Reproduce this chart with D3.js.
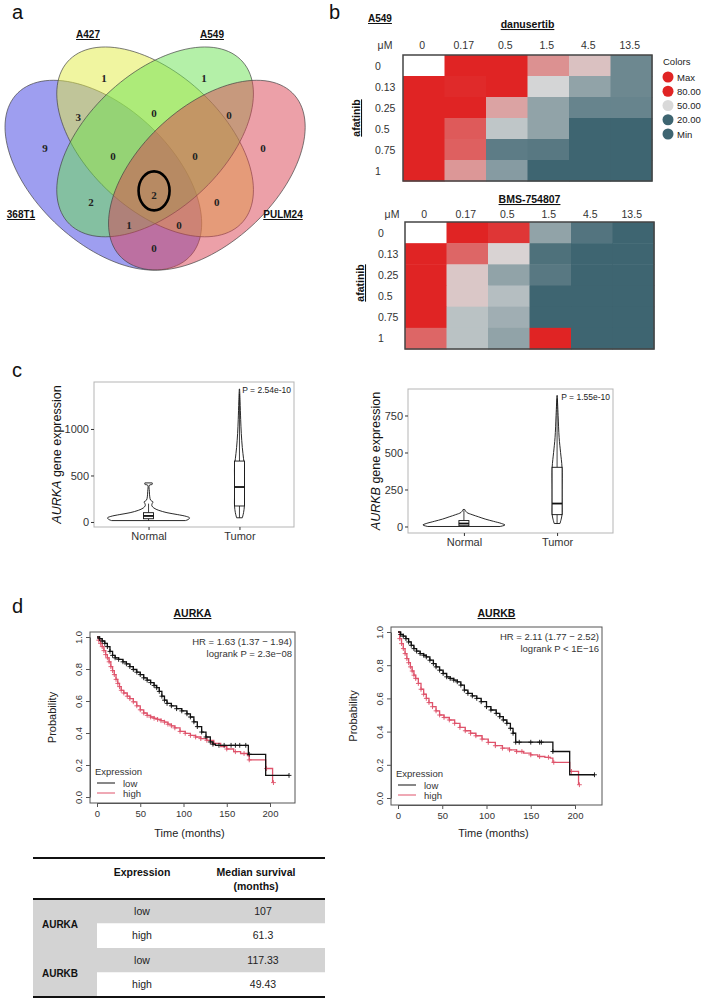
<!DOCTYPE html>
<html>
<head>
<meta charset="utf-8">
<script src="https://cdn.jsdelivr.net/npm/d3@7"></script>
<style>
  body { margin: 0; background: #fff; }
  svg { display: block; font-family: "Liberation Sans", Arial, sans-serif; }
</style>
</head>
<body>
<svg id="fig" width="702" height="999"></svg>
<script>
// ---- panel a: venn ----
const vennSets = ["368T1", "A427", "A549", "PULM24"];
const vennFill = ["#3d3de1", "#e1eb41", "#69e151", "#d94151"];
const vennCounts = [9, 1, 1, 0, 3, 0, 0, 0, 0, 2, 2, 0, 1, 0, 0];
// region label spots, unit square of the venn (y up)
const vennSpots = [[0.181, 0.552], [0.352, 0.762], [0.642, 0.762], [0.813, 0.552], [0.277, 0.645],
  [0.497, 0.657], [0.714, 0.651], [0.378, 0.528], [0.616, 0.528], [0.314, 0.39], [0.497, 0.411],
  [0.679, 0.39], [0.424, 0.32], [0.569, 0.32], [0.497, 0.251]];

// ---- panel b: heatmaps ----
const doseCols = ["0", "0.17", "0.5", "1.5", "4.5", "13.5"];
const afatinibRows = ["0", "0.13", "0.25", "0.5", "0.75", "1"];
const danusertib = [
  [null, 90, 90, 62, 54, 29],
  [90, 79, 90, 49, 36, 29],
  [90, 90, 59, 36, 28, 28],
  [90, 71, 45, 36, 15, 15],
  [90, 70, 26, 25, 15, 15],
  [90, 61, 34, 15, 15, 15],
];
const bms754807 = [
  [null, 90, 77, 36, 24, 15],
  [90, 69, 51, 23, 15, 15],
  [90, 53, 36, 25, 15, 15],
  [90, 53, 43, 15, 15, 15],
  [90, 44, 39, 15, 15, 15],
  [69, 44, 36, 90, 15, 15],
];
const legendKeys = ["Max", "80.00", "50.00", "20.00", "Min"];
const legendVals = [100, 80, 50, 20, 0];

// ---- panel c: violins (value, relative half width) ----
const aurkaNormal = [[15, 0.9], [30, 0.98], [45, 1], [60, 0.92], [80, 0.7], [100, 0.45], [125, 0.25], [150, 0.13],
  [175, 0.08], [200, 0.09], [215, 0.11], [235, 0.05], [270, 0.03], [330, 0.02], [395, 0.02], [405, 0.09], [420, 0.09]];
const aurkaTumor = [[45, 0.07], [100, 0.1], [170, 0.12], [300, 0.12], [450, 0.12], [600, 0.12], [680, 0.1],
  [800, 0.07], [950, 0.045], [1100, 0.03], [1300, 0.015], [1430, 0.004]];
const aurkaBox = { Normal: [15, 35, 65, 100, 197], Tumor: [45, 172, 376, 655, 1380] };
const aurkbNormal = [[0, 0.88], [10, 1], [20, 0.92], [35, 0.72], [50, 0.52], [65, 0.36], [80, 0.2], [95, 0.07], [115, 0.02]];
const aurkbTumor = [[20, 0.07], [50, 0.1], [80, 0.12], [150, 0.12], [250, 0.12], [400, 0.12], [500, 0.085],
  [600, 0.05], [750, 0.025], [885, 0.004]];
const aurkbBox = { Normal: [0, 5, 20, 40, 110], Tumor: [20, 80, 155, 400, 860] };

// ---- panel d: Kaplan-Meier (months, survival) ----
const aurkaLow = [[0, 1], [3, 0.99], [6, 0.975], [9, 0.96], [12, 0.94], [15, 0.91], [18, 0.885], [21, 0.87], [25, 0.86],
  [30, 0.845], [34, 0.832], [38, 0.815], [42, 0.797], [46, 0.78], [50, 0.765], [54, 0.745], [58, 0.73], [62, 0.715],
  [66, 0.697], [69, 0.683], [72, 0.66], [75, 0.63], [78, 0.605], [81, 0.585], [86, 0.57], [92, 0.552], [98, 0.538],
  [104, 0.52], [108, 0.5], [112, 0.47], [116, 0.44], [121, 0.406], [126, 0.375], [131, 0.344], [134, 0.33],
  [137, 0.323], [175, 0.267], [195, 0.135], [222, 0.135]];
const aurkaHigh = [[0, 1], [2, 0.98], [4, 0.96], [6, 0.94], [8, 0.915], [10, 0.89], [12, 0.87], [14, 0.845], [16, 0.815],
  [18, 0.79], [20, 0.765], [22, 0.735], [24, 0.71], [26, 0.69], [28, 0.667], [31, 0.65], [35, 0.63], [38, 0.615],
  [42, 0.595], [46, 0.57], [50, 0.545], [54, 0.525], [58, 0.51], [62, 0.5], [66, 0.492], [70, 0.485], [74, 0.477],
  [78, 0.468], [82, 0.455], [86, 0.445], [90, 0.432], [96, 0.41], [102, 0.398], [108, 0.385], [114, 0.375],
  [120, 0.365], [127, 0.354], [135, 0.335], [143, 0.315], [150, 0.3], [158, 0.283], [166, 0.272], [174, 0.258],
  [176, 0.232], [195, 0.178], [203, 0.09]];
const aurkbLow = [[0, 1], [3, 0.985], [6, 0.975], [9, 0.96], [12, 0.94], [15, 0.92], [18, 0.9], [21, 0.885], [25, 0.87],
  [29, 0.86], [32, 0.85], [36, 0.83], [40, 0.81], [43, 0.79], [47, 0.77], [51, 0.75], [55, 0.73], [59, 0.72], [63, 0.71],
  [67, 0.7], [71, 0.68], [75, 0.65], [79, 0.63], [84, 0.615], [89, 0.6], [94, 0.58], [100, 0.55], [105, 0.53],
  [111, 0.51], [115, 0.49], [119, 0.47], [123, 0.45], [127, 0.42], [130, 0.39], [133, 0.336], [175, 0.28],
  [194, 0.14], [222, 0.14]];
const aurkbHigh = [[0, 1], [2, 0.96], [4, 0.93], [6, 0.9], [8, 0.87], [10, 0.84], [12, 0.815], [14, 0.79], [16, 0.765],
  [18, 0.74], [20, 0.72], [23, 0.69], [26, 0.655], [29, 0.625], [32, 0.6], [35, 0.575], [39, 0.55], [43, 0.525],
  [47, 0.5], [52, 0.485], [58, 0.47], [64, 0.45], [70, 0.425], [76, 0.405], [82, 0.39], [88, 0.375], [95, 0.355],
  [102, 0.335], [110, 0.315], [118, 0.3], [126, 0.29], [134, 0.28], [142, 0.27], [150, 0.26], [158, 0.25],
  [166, 0.245], [172, 0.24], [175, 0.215], [194, 0.16], [204, 0.08]];
const aurkaLowCens = [141, 147, 155, 160, 165, 172, 176, 222];
const aurkaHighCens = [150, 160, 170, 176, 196, 204];
const aurkbLowCens = [137, 150, 160, 162, 175, 222];
const aurkbHighCens = [140, 150, 160, 170, 176, 196, 205];
const kmTicksX = [0, 50, 100, 150, 200];
const kmTicksY = [0, 0.2, 0.4, 0.6, 0.8, 1];

// ---- table ----
const tblGenes = ["AURKA", "AURKA", "AURKB", "AURKB"];
const tblExpr = ["low", "high", "low", "high"];
const tblMedian = ["107", "61.3", "117.33", "49.43"];

const svg = d3.select("#fig");
const RED = "#e02424", GREY = "#d9d9d9", TEAL = "#3e6571", PINK = "#df536b";

function label(x, y, txt, size, opts = {}) {
  const t = svg.append("text").attr("x", x).attr("y", y).text(txt)
    .attr("font-size", size).attr("fill", opts.fill || "#111")
    .attr("text-anchor", opts.anchor || "start");
  if (opts.bold) t.attr("font-weight", "bold");
  if (opts.under) t.style("text-decoration", "underline");
  if (opts.rot) t.attr("transform", `rotate(-90,${x},${y})`);
  if (opts.family) t.attr("font-family", opts.family);
  return t;
}

// panel letters
[["a", 12, 19], ["b", 329, 19], ["c", 12, 377], ["d", 12, 613]].forEach(([l, x, y]) => label(x, y, l, 20));

function drawVenn() {
  const vx = d3.scaleLinear().domain([0, 1]).range([-17.4, 327.6]);
  const vy = d3.scaleLinear().domain([0, 1]).range([331.7, -1.3]);
  const shapes = [
    { cx: 0.35, cy: 0.47, rot: -45 }, { cx: 0.5, cy: 0.57, rot: -45 },
    { cx: 0.5, cy: 0.57, rot: 45 }, { cx: 0.65, cy: 0.47, rot: 45 },
  ];
  const line = d3.line().x((d) => vx(d[0])).y((d) => vy(d[1])).curve(d3.curveLinearClosed);
  const pts = (e) => d3.range(0, 360, 3).map((t) => {
    const r = (t * Math.PI) / 180, c = Math.cos((e.rot * Math.PI) / 180), s = Math.sin((e.rot * Math.PI) / 180);
    const ex = 0.35 * Math.cos(r), ey = 0.2 * Math.sin(r);
    return [e.cx + ex * c - ey * s, e.cy + ex * s + ey * c];
  });
  const g = svg.append("g");
  g.selectAll("path").data(shapes).join("path")
    .attr("d", (d) => line(pts(d)))
    .attr("fill", (d, i) => vennFill[i]).attr("fill-opacity", 0.5)
    .attr("stroke", "#444").attr("stroke-width", 0.7);
  g.selectAll("text").data(vennCounts).join("text")
    .attr("x", (d, i) => vx(vennSpots[i][0])).attr("y", (d, i) => vy(vennSpots[i][1]))
    .attr("dy", "0.35em").attr("text-anchor", "middle")
    .attr("font-family", "'Liberation Serif', 'Times New Roman', serif")
    .attr("font-weight", "bold").attr("font-size", 11).attr("fill", "#222")
    .text((d) => d);
  g.append("ellipse").attr("cx", vx(0.497)).attr("cy", vy(0.423)).attr("rx", 15.5).attr("ry", 19.5)
    .attr("fill", "none").attr("stroke", "#000").attr("stroke-width", 2.6);
  const setPos = [[21, 218], [88, 38], [212, 38], [283, 218]];
  vennSets.forEach((s, i) => label(setPos[i][0], setPos[i][1], s, 10, { bold: true, under: true, anchor: "middle" }));
}

const heatColor = d3.scaleLinear().domain([20, 50, 80]).range([TEAL, GREY, RED]).clamp(true);

function drawHeatmap(vals, box, colY, muX, rowX, titleTxt, titleY, afX, afY) {
  const x = d3.scaleBand().domain(doseCols).range([box[0], box[2]]);
  const y = d3.scaleBand().domain(afatinibRows).range([box[1], box[3]]);
  const g = svg.append("g");
  const cells = vals.flatMap((row, r) => row.map((v, c) => ({ r: afatinibRows[r], c: doseCols[c], v })));
  g.selectAll("rect").data(cells).join("rect")
    .attr("x", (d) => x(d.c)).attr("y", (d) => y(d.r))
    .attr("width", x.bandwidth() + 0.5).attr("height", y.bandwidth() + 0.5)
    .attr("fill", (d) => (d.v == null ? "#fff" : heatColor(d.v)));
  g.append("rect").attr("x", box[0]).attr("y", box[1]).attr("width", box[2] - box[0]).attr("height", box[3] - box[1])
    .attr("fill", "none").attr("stroke", "#444").attr("stroke-width", 1.5);
  doseCols.forEach((c) => label(x(c) + x.bandwidth() / 2 - 1.5, colY, c, 10.5, { anchor: "middle", fill: "#333" }));
  label(muX, colY, "μM", 10.5, { anchor: "middle", fill: "#333" });
  afatinibRows.forEach((r) => label(rowX, y(r) + y.bandwidth() / 2 + 4, r, 10.5, { fill: "#333" }));
  label((box[0] + box[2]) / 2, titleY, titleTxt, 10.5, { bold: true, under: true, anchor: "middle" });
  label(afX, afY, "afatinib", 10.5, { bold: true, under: true, anchor: "middle", rot: true });
}

function drawHeatLegend() {
  label(663, 65, "Colors", 9.5, { fill: "#222" });
  const ly = d3.scalePoint().domain(legendKeys).range([77, 134]);
  svg.append("g").selectAll("circle").data(legendKeys).join("circle")
    .attr("cx", 668).attr("cy", (d) => ly(d)).attr("r", 5.5)
    .attr("fill", (d, i) => heatColor(legendVals[i]));
  legendKeys.forEach((k) => label(677, ly(k) + 3.5, k, 9.5, { fill: "#222" }));
}

function drawViolin(cfg) {
  const [l, t, r, b] = cfg.box;
  const x = d3.scalePoint().domain(["Normal", "Tumor"]).range([l, r]).padding(0.6);
  const y = d3.scaleLinear().domain(cfg.yDomain).range([b, t]);
  const w = d3.scaleLinear().domain([0, 1]).range([0, 41]);
  const g = svg.append("g");
  g.append("rect").attr("x", l).attr("y", t).attr("width", r - l).attr("height", b - t)
    .attr("fill", "none").attr("stroke", "#b5b5b5").attr("stroke-width", 1);
  const groups = [["Normal", cfg.normal], ["Tumor", cfg.tumor]];
  groups.forEach(([k, prof]) => {
    const cx = x(k);
    const area = d3.area().y((d) => y(d[0])).x0((d) => cx - w(d[1])).x1((d) => cx + w(d[1])).curve(d3.curveCatmullRom);
    g.append("path").attr("d", area(prof)).attr("fill", "#fff").attr("stroke", "#111").attr("stroke-width", 0.9);
    const [lo, q1, med, q3, hi] = cfg.boxes[k];
    g.append("line").attr("x1", cx).attr("x2", cx).attr("y1", y(lo)).attr("y2", y(q1)).attr("stroke", "#111").attr("stroke-width", 0.8);
    g.append("line").attr("x1", cx).attr("x2", cx).attr("y1", y(q3)).attr("y2", y(hi)).attr("stroke", "#111").attr("stroke-width", 0.8);
    g.append("rect").attr("x", cx - 5).attr("width", 10).attr("y", y(q3)).attr("height", y(q1) - y(q3))
      .attr("fill", "#fff").attr("stroke", "#111").attr("stroke-width", 0.9);
    g.append("line").attr("x1", cx - 5).attr("x2", cx + 5).attr("y1", y(med)).attr("y2", y(med)).attr("stroke", "#111").attr("stroke-width", 1.8);
  });
  const ya = g.append("g").attr("transform", `translate(${l},0)`)
    .call(d3.axisLeft(y).tickValues(cfg.ticks).tickFormat(d3.format("d")).tickSize(3).tickPadding(2));
  const xa = g.append("g").attr("transform", `translate(0,${b})`).call(d3.axisBottom(x).tickSize(3).tickPadding(2));
  [ya, xa].forEach((a) => {
    a.select(".domain").remove();
    a.selectAll("line").attr("stroke", "#333");
    a.selectAll("text").attr("font-size", 11).attr("fill", "#333").attr("font-family", "'Liberation Sans', Arial, sans-serif");
  });
  const tt = svg.append("text").attr("transform", `translate(${cfg.titleX},${(t + b) / 2}) rotate(-90)`)
    .attr("text-anchor", "middle").attr("font-size", 12.5).attr("fill", "#111");
  tt.append("tspan").attr("font-style", "italic").text(cfg.gene);
  tt.append("tspan").text(" gene expression");
  label(r - 3, t + 11, cfg.p, 8.5, { anchor: "end", fill: "#222" });
}

function drawKM(cfg) {
  const [l, t, r, b] = cfg.box;
  const x = d3.scaleLinear().domain([0, 200]).range(cfg.xr);
  const y = d3.scaleLinear().domain([0, 1]).range(cfg.yr);
  const g = svg.append("g");
  const line = d3.line().x((d) => x(d[0])).y((d) => y(d[1])).curve(d3.curveStepAfter);
  const stepAt = (curve, tm) => curve[d3.bisector((d) => d[0]).right(curve, tm) - 1][1];
  const plus = (cx, cy) => `M${cx - 2.4},${cy}H${cx + 2.4}M${cx},${cy - 2.4}V${cy + 2.4}`;
  [[cfg.high, cfg.highCens, PINK], [cfg.low, cfg.lowCens, "#111"]].forEach(([curve, extra, col]) => {
    g.append("path").attr("d", line(curve)).attr("fill", "none").attr("stroke", col).attr("stroke-width", 1.3);
    const times = curve.filter((d) => d[0] > 0 && d[0] < 136).map((d) => d[0]).concat(extra);
    g.append("path").attr("d", times.map((tm) => plus(x(tm), y(stepAt(curve, tm)))).join(""))
      .attr("stroke", col).attr("stroke-width", 0.9).attr("fill", "none");
  });
  g.append("rect").attr("x", l).attr("y", t).attr("width", r - l).attr("height", b - t)
    .attr("fill", "none").attr("stroke", "#555").attr("stroke-width", 1);
  const xa = g.append("g").attr("transform", `translate(0,${b})`)
    .call(d3.axisBottom(x).tickValues(kmTicksX).tickSize(4).tickSizeOuter(0).tickPadding(3));
  const ya = g.append("g").attr("transform", `translate(${l},0)`)
    .call(d3.axisLeft(y).tickValues(kmTicksY).tickFormat(d3.format(".1f")).tickSize(4).tickSizeOuter(0));
  [xa, ya].forEach((a) => {
    a.select(".domain").attr("stroke", "#555");
    a.selectAll("line").attr("stroke", "#555");
    a.selectAll("text").attr("font-size", 9.5).attr("fill", "#333").attr("font-family", "'Liberation Sans', Arial, sans-serif");
  });
  ya.selectAll("text").attr("transform", "rotate(-90)").attr("x", 0).attr("y", -8).attr("dy", 0).attr("text-anchor", "middle");
  label((l + r) / 2, 617, cfg.gene, 10.5, { bold: true, under: true, anchor: "middle" });
  label(r - 3, t + 13, cfg.hr, 9.5, { anchor: "end", fill: "#333" });
  label(r - 3, t + 25, cfg.lr, 9.5, { anchor: "end", fill: "#333" });
  label(l - 34, (t + b) / 2, "Probability", 11, { anchor: "middle", rot: true, fill: "#222" });
  label((l + r) / 2 - 3, 837, "Time (months)", 11, { anchor: "middle", fill: "#222" });
  const lx = l + 5;
  label(lx, b - 28, "Expression", 9.5, { fill: "#333" });
  [["low", "#111", b - 20], ["high", PINK, b - 10]].forEach(([k, col, yy]) => {
    g.append("line").attr("x1", lx + 2).attr("x2", lx + 20).attr("y1", yy).attr("y2", yy).attr("stroke", col).attr("stroke-width", 1);
    label(lx + 28, yy + 3.5, k, 9.5, { fill: "#333" });
  });
}

function drawTable() {
  const L = 33, R = 325, c1 = 97, top = 858, head = 899, rowH = 24.5;
  const g = svg.append("g");
  const yRow = d3.scaleBand().domain(d3.range(tblGenes.length)).range([head, head + rowH * tblGenes.length]);
  g.selectAll("rect.row").data(tblExpr).join("rect").attr("class", "row")
    .attr("x", c1).attr("width", R - c1).attr("y", (d, i) => yRow(i)).attr("height", rowH)
    .attr("fill", (d) => (d === "low" ? "#d3d3d3" : "#fff"));
  g.append("rect").attr("x", L).attr("width", c1 - L).attr("y", head).attr("height", rowH * tblGenes.length).attr("fill", "#d3d3d3");
  const narrow = "'Liberation Sans Narrow', 'Arial Narrow', sans-serif";
  tblExpr.forEach((e, i) => {
    label(142, yRow(i) + rowH / 2 + 3.5, e, 10.5, { anchor: "middle", family: narrow, fill: "#222" });
    label(263, yRow(i) + rowH / 2 + 3.5, tblMedian[i], 10.5, { anchor: "middle", family: narrow, fill: "#222" });
  });
  Array.from(new Set(tblGenes)).forEach((gn) => {
    const idx = tblGenes.map((d, i) => (d === gn ? i : -1)).filter((i) => i >= 0);
    label(60, (yRow(idx[0]) + yRow(idx[idx.length - 1]) + rowH) / 2 + 4, gn, 10, { bold: true, anchor: "middle", fill: "#111" });
  });
  label(142, 876, "Expression", 10.5, { bold: true, anchor: "middle" });
  label(256, 876, "Median survival", 10.5, { bold: true, anchor: "middle" });
  label(256, 890, "(months)", 10.5, { bold: true, anchor: "middle" });
  [top, head, head + rowH * tblGenes.length].forEach((yy) =>
    g.append("line").attr("x1", L).attr("x2", R).attr("y1", yy).attr("y2", yy).attr("stroke", "#111").attr("stroke-width", 1.8));
}

drawVenn();
label(368, 22, "A549", 10, { bold: true, under: true });
drawHeatmap(danusertib, [403, 55, 652, 181], 49, 385, 375, "danusertib", 28, 360, 118);
drawHeatLegend();
drawHeatmap(bms754807, [405, 222, 654, 349], 218, 392, 378, "BMS-754807", 203, 364, 283);
drawViolin({ box: [94, 382, 294, 527], yDomain: [-54, 1505], ticks: [0, 500, 1000], normal: aurkaNormal, tumor: aurkaTumor,
  boxes: aurkaBox, gene: "AURKA", titleX: 61, p: "P = 2.54e-10" });
drawViolin({ box: [408, 389, 613, 533], yDomain: [-44, 929], ticks: [0, 250, 500, 750], normal: aurkbNormal, tumor: aurkbTumor,
  boxes: aurkbBox, gene: "AURKB", titleX: 380, p: "P = 1.55e-10" });
drawKM({ box: [90, 632, 295, 803], xr: [97, 270], yr: [797, 637], gene: "AURKA", low: aurkaLow, high: aurkaHigh,
  lowCens: aurkaLowCens, highCens: aurkaHighCens, hr: "HR = 1.63 (1.37 − 1.94)", lr: "logrank P = 2.3e−08" });
drawKM({ box: [391, 627, 602, 805], xr: [398, 575], yr: [798, 632], gene: "AURKB", low: aurkbLow, high: aurkbHigh,
  lowCens: aurkbLowCens, highCens: aurkbHighCens, hr: "HR = 2.11 (1.77 − 2.52)", lr: "logrank P < 1E−16" });
drawTable();
</script>
</body>
</html>
